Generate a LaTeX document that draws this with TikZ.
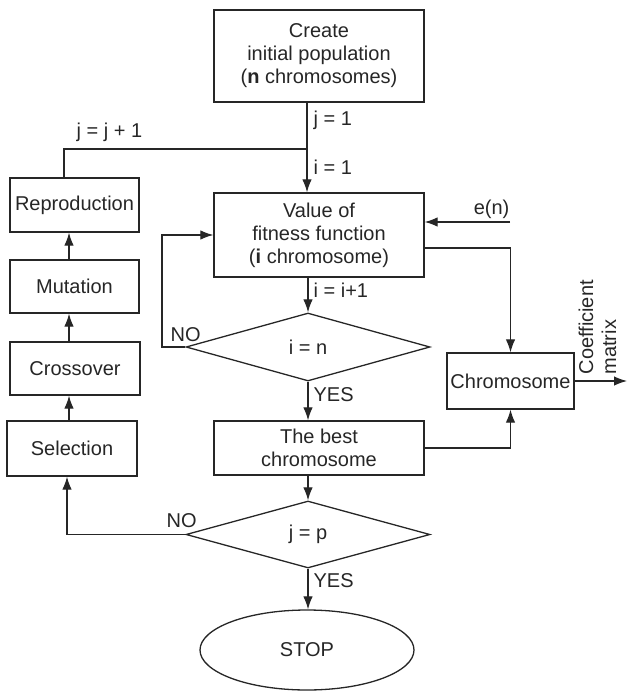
\documentclass[tikz,border=0pt]{standalone}
\usepackage{fontspec}
\setmainfont{Liberation Sans}
\usetikzlibrary{shapes.geometric,arrows.meta}
\tikzset{
 box/.style={draw,line width=1.3pt,align=center,inner sep=0pt},
 decision/.style={draw,diamond,line width=1.3pt,inner sep=0pt,aspect=3.6,minimum width=244pt,minimum height=68pt},
 lbl/.style={anchor=west,inner sep=0pt}
}
\begin{document}
\begin{tikzpicture}[x=1pt,y=-1pt,>={Latex[length=13pt,width=9.5pt]},line width=1.2pt,font=\fontsize{20}{23}\selectfont,color=black!85]
\useasboundingbox (0,0) rectangle (628,692);
\node[box,minimum width=210pt,minimum height=92pt] (create) at (319,56) {Create\\initial population\\(\textbf{n} chromosomes)};
\node[box,minimum width=210pt,minimum height=84pt] (fitness) at (319,235) {Value of\\fitness function\\(\textbf{i} chromosome)};
\node[decision] (checki) at (308,347) {i = n};
\node[box,minimum width=210pt,minimum height=54pt] (best) at (319,448) {The best\\chromosome};
\node[decision,minimum height=67pt] (checkj) at (308,534.5) {j = p};
\node[draw,ellipse,line width=1.3pt,minimum width=214pt,minimum height=80pt] (stop) at (307,650) {STOP};
\node[box,minimum width=127pt,minimum height=56pt] (chrom) at (510.5,381) {Chromosome};
\node[box,minimum width=129pt,minimum height=54pt] (repro) at (74.5,205) {Reproduction};
\node[box,minimum width=129pt,minimum height=53pt] (mut) at (74.5,286.5) {Mutation};
\node[box,minimum width=130pt,minimum height=53pt] (cross) at (75,368.5) {Crossover};
\node[box,minimum width=130pt,minimum height=55pt] (sel) at (72,448.5) {Selection};
\coordinate (join) at (307,149);
\coordinate (jloop) at (64,149);
\coordinate (noi) at (162,347);
\coordinate (noj) at (67,534.5);
\coordinate (col) at (69,0);
\coordinate (en) at (510,222);
\coordinate (out) at (627,381);
\draw (create.south -| join) -- (join);
\draw[->] (join) -- (join |- fitness.north);
\draw (repro.north -| jloop) -- (jloop) -- (join);
\draw[->] (fitness.south -| checki.north) -- (checki.north);
\draw[->] (checki.south) -- (checki.south |- best.north);
\draw[->] (best.south -| checkj.north) -- (checkj.north);
\draw[->] (checkj.south) -- (checkj.south |- stop.north);
\draw[->] (checki.west) -- (noi) |- (fitness.west);
\draw[->] (checkj.west) -- (noj) -- (noj |- sel.south);
\draw[->] (sel.north -| col) -- (cross.south -| col);
\draw[->] (cross.north -| col) -- (mut.south -| col);
\draw[->] (mut.north -| col) -- (repro.south -| col);
\draw[->] ([yshift=-13pt]fitness.east) -| (chrom.north);
\draw[->] (best.east) -| (chrom.south);
\draw[->] (en) -- (en -| fitness.east);
\draw[->] (chrom.east) -- (out);
\node[anchor=south east,inner sep=0pt] (enlbl) at ([yshift=3pt]en) {e(n)};
\node[rotate=90,anchor=north west,align=left,inner sep=0pt] (coef) at (578,375) {Coefficient\\matrix};
\node[lbl] (jone) at (313,120) {j = 1};
\node[lbl] (ione) at (313,167) {i = 1};
\node[lbl] (inext) at (313,290) {i = i+1};
\node[lbl] (yesi) at (313,395) {YES};
\node[lbl] (yesj) at (313,581) {YES};
\node[lbl] (noilbl) at (170,335) {NO};
\node[lbl] (nojlbl) at (166,521) {NO};
\node[lbl] (jnext) at (76,132) {j = j + 1};
\end{tikzpicture}
\end{document}
